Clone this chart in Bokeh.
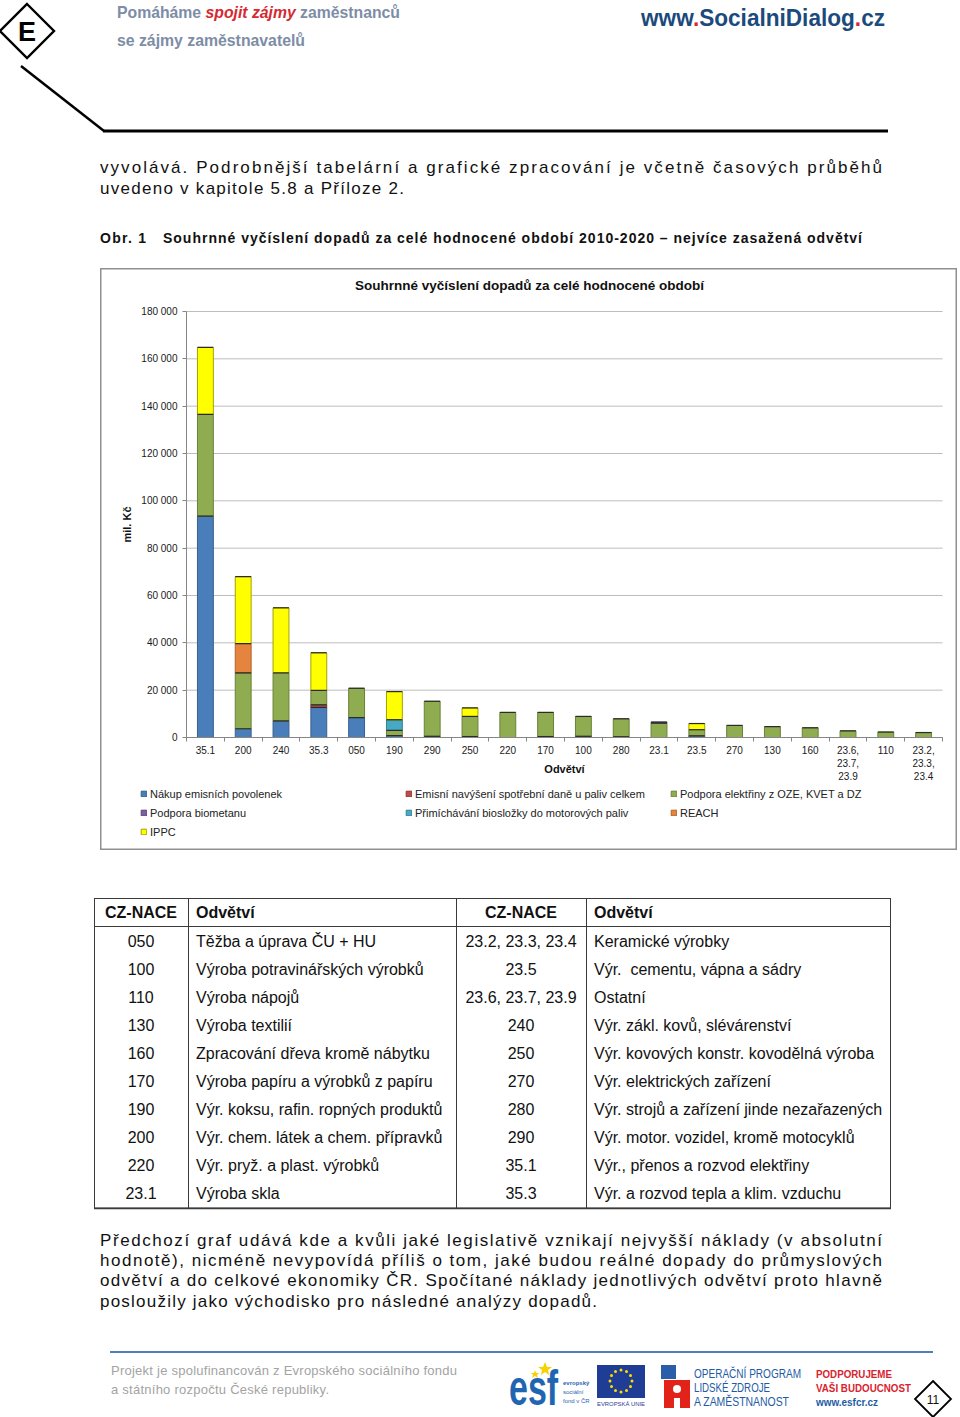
import math
import numpy as np
from bokeh.plotting import figure
from bokeh.models import (ColumnDataSource, Range1d, FixedTicker, Label, Legend, LegendItem,
                          LinearAxis, Div, Spacer)
from bokeh.layouts import column, row
from bokeh.embed import file_html
from bokeh.resources import INLINE

# ---------------- data ----------------
categories = ["35.1", "200", "240", "35.3", "050", "190", "290", "250", "220", "170",
              "100", "280", "23.1", "23.5", "270", "130", "160", "23.6, 23.7, 23.9", "110",
              "23.2, 23.3, 23.4"]
category_tick_labels = ["35.1", "200", "240", "35.3", "050", "190", "290", "250", "220", "170",
                        "100", "280", "23.1", "23.5", "270", "130", "160", "23.6,\n23.7,\n23.9",
                        "110", "23.2,\n23.3,\n23.4"]
series_names = ["Nákup emisních povolenek",
                "Emisní navýšení spotřební daně u paliv celkem",
                "Podpora elektřiny z OZE, KVET a DZ",
                "Podpora biometanu",
                "Přimíchávání biosložky do motorových paliv",
                "REACH",
                "IPPC"]
nakup_povolenek = [93500, 3700, 7000, 12700, 8400, 800, 500, 400, 0, 400,
                   0, 300, 0, 700, 0, 0, 0, 0, 0, 0]
spotrebni_dan = [0, 0, 0, 1100, 0, 0, 0, 0, 0, 0,
                 500, 0, 0, 0, 0, 0, 0, 0, 0, 0]
podpora_oze = [43000, 23600, 20300, 6100, 12400, 2200, 14800, 8500, 10600, 10200,
               8400, 7600, 6100, 2600, 5100, 4600, 4100, 2800, 2300, 2100]
podpora_biometanu = [0, 0, 0, 0, 0, 0, 0, 0, 0, 0,
                     0, 0, 400, 0, 0, 0, 0, 0, 0, 0]
primichavani = [0, 0, 0, 0, 0, 4500, 0, 0, 0, 0,
                0, 0, 0, 0, 0, 0, 0, 0, 0, 0]
reach = [0, 12400, 0, 0, 0, 0, 0, 0, 0, 0,
         0, 0, 0, 0, 0, 0, 0, 0, 0, 0]
ippc = [28300, 28300, 27500, 15900, 0, 11900, 0, 3600, 0, 0,
        0, 0, 0, 2600, 0, 0, 0, 0, 0, 0]
series_values = [nakup_povolenek, spotrebni_dan, podpora_oze, podpora_biometanu,
                 primichavani, reach, ippc]

y_tick_values = [0, 20000, 40000, 60000, 80000, 100000, 120000, 140000, 160000, 180000]
y_tick_labels = ["0", "20 000", "40 000", "60 000", "80 000", "100 000", "120 000",
                 "140 000", "160 000", "180 000"]

table_codes_left = ["050", "100", "110", "130", "160", "170", "190", "200", "220", "23.1"]
table_names_left = ["Těžba a úprava ČU + HU", "Výroba potravinářských výrobků", "Výroba nápojů",
                    "Výroba textilií", "Zpracování dřeva kromě nábytku",
                    "Výroba papíru a výrobků z papíru", "Výr. koksu, rafin. ropných produktů",
                    "Výr. chem. látek a chem. přípravků", "Výr. pryž. a plast. výrobků",
                    "Výroba skla"]
table_codes_right = ["23.2, 23.3, 23.4", "23.5", "23.6, 23.7, 23.9", "240", "250", "270",
                     "280", "290", "35.1", "35.3"]
table_names_right = ["Keramické výrobky", "Výr.  cementu, vápna a sádry", "Ostatní",
                     "Výr. zákl. kovů, slévárenství", "Výr. kovových konstr. kovodělná výroba",
                     "Výr. elektrických zařízení", "Výr. strojů a zařízení jinde nezařazených",
                     "Výr. motor. vozidel, kromě motocyklů", "Výr., přenos a rozvod elektřiny",
                     "Výr. a rozvod tepla a klim. vzduchu"]

# ---------------- styles / geometry ----------------
FONT = "Liberation Sans"
fills = ["#4A7EBB", "#BE4B48", "#8FAC50", "#7D5FA0", "#46AAC5", "#E5843E", "#FFFF00"]
edges = ["#37608F", "#8E3633", "#6A8138", "#5B4579", "#32839A", "#B0622B", "#A3A300"]
AXIS_GREY = "#868686"
BAR_W = 0.42

FIG_W, FIG_H = 857, 582            # chart box
PLOT_LEFT_PAD, PLOT_RIGHT_PAD = 86, 15     # from box edge to first/last category boundary
PLOT_TOP_PAD, PLOT_BOTTOM_PAD = 43, 113    # from box edge to top tick / zero line
n = len(categories)
px_per_cat = (FIG_W - PLOT_LEFT_PAD - PLOT_RIGHT_PAD) / n
y_max = y_tick_values[-1]
px_per_val = (FIG_H - PLOT_TOP_PAD - PLOT_BOTTOM_PAD) / y_max

x_pos = list(range(1, n + 1))           # category centres
bounds = [k + 0.5 for k in range(n + 1)]  # category boundaries

x_range = Range1d(0.5 - PLOT_LEFT_PAD / px_per_cat, n + 0.5 + PLOT_RIGHT_PAD / px_per_cat)
y_range = Range1d(-PLOT_BOTTOM_PAD / px_per_val, y_max + PLOT_TOP_PAD / px_per_val)

p = figure(x_range=x_range, y_range=y_range, width=FIG_W, height=FIG_H,
           output_backend="svg", toolbar_location=None, title=None,
           x_axis_location=None, y_axis_location=None, min_border=0,
           background_fill_color="white", border_fill_color="white")
p.outline_line_color = "#8f8f8f"
p.outline_line_width = 2
p.xgrid.visible = False
p.ygrid.visible = False

# horizontal grid lines between first and last category boundary
p.segment(x0=[bounds[0]] * len(y_tick_values), x1=[bounds[-1]] * len(y_tick_values),
          y0=y_tick_values, y1=y_tick_values, line_color="#bdbdbd", line_width=1)

# stacked bars
data = {"x": x_pos, "xl": [x - BAR_W / 2 for x in x_pos], "xr": [x + BAR_W / 2 for x in x_pos]}
cum = np.zeros(n)
for i, vals in enumerate(series_values):
    v = np.array(vals, dtype=float)
    data[f"b{i}"] = cum.copy()
    data[f"t{i}"] = cum + v
    data[f"a{i}"] = np.where(v > 0, 1.0, 0.0)
    cum = cum + v
source = ColumnDataSource(data)

renderers = []
first_nonzero = []
for i, vals in enumerate(series_values):
    r = p.vbar(x="x", width=BAR_W, bottom=f"b{i}", top=f"t{i}", source=source,
               fill_color=fills[i], line_color=edges[i], line_width=1,
               line_alpha=f"a{i}", fill_alpha=f"a{i}")
    renderers.append(r)
    first_nonzero.append(next(j for j, v in enumerate(vals) if v > 0))
# dark top edge of every segment (Excel style)
for i in range(len(series_values)):
    p.segment(x0="xl", x1="xr", y0=f"t{i}", y1=f"t{i}", source=source,
              line_color="#2b2b2b", line_width=1.2, line_alpha=f"a{i}")

# y axis (fixed at the first category boundary)
yaxis = LinearAxis(fixed_location=bounds[0], ticker=FixedTicker(ticks=y_tick_values),
                   bounds=(0, y_max),
                   major_label_overrides=dict(zip(y_tick_values, y_tick_labels)),
                   axis_line_color=AXIS_GREY, major_tick_line_color=AXIS_GREY,
                   major_tick_out=4, major_tick_in=0, minor_tick_line_color=None,
                   major_label_standoff=5, major_label_text_font=FONT,
                   major_label_text_font_size="10px", major_label_text_color="#1a1a1a",
                   axis_label="mil. Kč", axis_label_standoff=5, axis_label_text_font=FONT,
                   axis_label_text_font_style="bold", axis_label_text_font_size="11px",
                   axis_label_text_color="#111111")
p.add_layout(yaxis, "left")

# x axis: boundary ticks + baseline
xaxis_ticks = LinearAxis(fixed_location=0, ticker=FixedTicker(ticks=bounds),
                         bounds=(bounds[0], bounds[-1]),
                         axis_line_color=AXIS_GREY, major_tick_line_color=AXIS_GREY,
                         major_tick_out=4, major_tick_in=0, minor_tick_line_color=None,
                         major_label_text_alpha=0, major_label_text_font_size="1px")
p.add_layout(xaxis_ticks, "below")
# x axis: category labels
xaxis_labels = LinearAxis(fixed_location=0, ticker=FixedTicker(ticks=x_pos),
                          axis_line_color=None, major_tick_line_color=None,
                          major_tick_out=0, major_tick_in=0, minor_tick_line_color=None,
                          major_label_standoff=7,
                          major_label_overrides=dict(zip(x_pos, category_tick_labels)),
                          major_label_text_font=FONT, major_label_text_font_size="10px",
                          major_label_text_color="#1a1a1a")
p.add_layout(xaxis_labels, "below")

# title / axis title (screen units from frame bottom-left = box bottom-left)
p.add_layout(Label(x=429, y=565, x_units="screen", y_units="screen",
                   text="Souhrnné vyčíslení dopadů za celé hodnocené období",
                   text_align="center", text_baseline="middle", text_font=FONT,
                   text_font_style="bold", text_font_size="13.5px", text_color="#111111"))
p.add_layout(Label(x=464, y=82, x_units="screen", y_units="screen", text="Odvětví",
                   text_align="center", text_baseline="middle", text_font=FONT,
                   text_font_style="bold", text_font_size="11px", text_color="#111111"))

legend = Legend(items=[LegendItem(label=nm, renderers=[r], index=idx)
                       for nm, r, idx in zip(series_names, renderers, first_nonzero)],
                location=(40, 9), orientation="horizontal", ncols=3,
                glyph_width=7, glyph_height=7, label_standoff=3, label_width=255,
                label_height=19, spacing=0, padding=0, margin=0,
                label_text_font=FONT, label_text_font_size="11px", label_text_color="#222222",
                background_fill_alpha=0, border_line_alpha=0)
p.add_layout(legend)

# ---------------- page texts ----------------
TF = 'font-family="Liberation Sans, Arial, sans-serif"'


def line(x, y, txt, length, size=17, weight="normal", fill="#111"):
    return (f'<text x="{x}" y="{y}" font-size="{size}" font-weight="{weight}" fill="{fill}" '
            f'dominant-baseline="central" textLength="{length}" lengthAdjust="spacing">{txt}</text>')


top_svg = f'''
<svg xmlns="http://www.w3.org/2000/svg" width="960" height="268" {TF}
 style="position:absolute;left:0px;top:0px;overflow:visible">
 <polygon points="27,4 54,31 27,58 0,31" fill="#fff" stroke="#000" stroke-width="2.4"/>
 <text x="27" y="32" font-size="27" font-weight="bold" text-anchor="middle" dominant-baseline="central">E</text>
 <line x1="21" y1="66" x2="104" y2="131" stroke="#000" stroke-width="2.5"/>
 <line x1="103" y1="131" x2="888" y2="131" stroke="#000" stroke-width="3"/>
 <text x="117" y="12" font-size="17" font-weight="bold" fill="#7d8da6" dominant-baseline="central"
  textLength="283" lengthAdjust="spacingAndGlyphs">Pomáháme <tspan fill="#d42a30" font-style="italic">spojit zájmy</tspan> zaměstnanců</text>
 <text x="117" y="40" font-size="17" font-weight="bold" fill="#7d8da6" dominant-baseline="central"
  textLength="188" lengthAdjust="spacingAndGlyphs">se zájmy zaměstnavatelů</text>
 <text x="641" y="18" font-size="23" font-weight="bold" fill="#1b4a7c" dominant-baseline="central"
  textLength="244" lengthAdjust="spacingAndGlyphs">www<tspan fill="#d42a30">.</tspan>SocialniDialog<tspan fill="#d42a30">.</tspan>cz</text>
 {line(100, 167, "vyvolává. Podrobnější tabelární a grafické zpracování je včetně časových průběhů", 782)}
 {line(100, 188, "uvedeno v kapitole 5.8 a Příloze 2.", 304)}
 {line(100, 238, "Obr. 1", 46, size=14, weight="bold")}
 {line(163, 238, "Souhrnné vyčíslení dopadů za celé hodnocené období 2010-2020 – nejvíce zasažená odvětví", 699, size=14, weight="bold")}
</svg>'''

top_div = Div(text=f'<div style="position:relative;width:952px;height:268px">{top_svg}</div>',
              width=952, height=268, margin=(0, 0, 0, 0))

# table
tab = []
tab.append('<rect x="94.5" y="898.5" width="796" height="309.5" fill="none" stroke="#3a3a3a" stroke-width="1"/>')
tab.append('<line x1="94" y1="1208.5" x2="891" y2="1208.5" stroke="#3a3a3a" stroke-width="1.6"/>')
tab.append('<line x1="94" y1="926.5" x2="891" y2="926.5" stroke="#3a3a3a" stroke-width="1"/>')
for xv in (188.5, 456.5, 586.5):
    tab.append(f'<line x1="{xv}" y1="898" x2="{xv}" y2="1208" stroke="#3a3a3a" stroke-width="1"/>')
hdr = 'font-size="16" font-weight="bold" dominant-baseline="central" fill="#111"'
tab.append(f'<text x="141" y="912" text-anchor="middle" {hdr}>CZ-NACE</text>')
tab.append(f'<text x="196" y="912" {hdr}>Odvětví</text>')
tab.append(f'<text x="521" y="912" text-anchor="middle" {hdr}>CZ-NACE</text>')
tab.append(f'<text x="594" y="912" {hdr}>Odvětví</text>')
cell = 'font-size="16" dominant-baseline="central" fill="#111"'
for i in range(len(table_codes_left)):
    yv = 941 + 28 * i
    tab.append(f'<text x="141" y="{yv}" text-anchor="middle" {cell}>{table_codes_left[i]}</text>')
    tab.append(f'<text x="196" y="{yv}" {cell}>{table_names_left[i]}</text>')
    tab.append(f'<text x="521" y="{yv}" text-anchor="middle" {cell}>{table_codes_right[i]}</text>')
    tab.append(f'<text x="594" y="{yv}" {cell} style="white-space:pre">{table_names_right[i]}</text>')

stars = []
for k in range(12):
    a = 2 * math.pi * k / 12
    stars.append(f'<circle cx="{621 + 11 * math.cos(a):.1f}" cy="{1381 + 11 * math.sin(a):.1f}" r="1.5" fill="#ffdd00"/>')

bottom_svg = f'''
<svg xmlns="http://www.w3.org/2000/svg" width="960" height="567" {TF}
 style="position:absolute;left:0px;top:0px;overflow:visible">
<g transform="translate(0,-850)">
 {''.join(tab)}
 {line(100, 1240, "Předchozí graf udává kde a kvůli jaké legislativě vznikají nejvyšší náklady (v absolutní", 782)}
 {line(100, 1260, "hodnotě), nicméně nevypovídá příliš o tom, jaké budou reálné dopady do průmyslových", 782)}
 {line(100, 1280, "odvětví a do celkové ekonomiky ČR. Spočítané náklady jednotlivých odvětví proto hlavně", 782)}
 {line(100, 1301, "posloužily jako východisko pro následné analýzy dopadů.", 497)}
 <line x1="110" y1="1352" x2="933" y2="1352" stroke="#4f7fb5" stroke-width="2"/>
 {line(111, 1370, "Projekt je spolufinancován z Evropského sociálního fondu", 346, size=13, fill="#a3a3a3")}
 {line(111, 1389, "a státního rozpočtu České republiky.", 218, size=13, fill="#a3a3a3")}
 <text transform="translate(509,1405) scale(1,1.45)" font-size="34" font-weight="bold" fill="#1f65b2">esf</text>
 <polygon points="545,1362 547,1367 552,1367 548,1370 549,1375 545,1372 541,1375 542,1370 538,1367 543,1367" fill="#f5d300"/>
 <polygon points="535,1370 536,1373 539,1373 537,1375 538,1378 535,1376 532,1378 533,1375 531,1373 534,1373" fill="#f5d300"/>
 <text x="563" y="1385" font-size="6" font-weight="bold" fill="#1f65b2">evropský</text>
 <text x="563" y="1394" font-size="6" fill="#1f65b2">sociální</text>
 <text x="563" y="1403" font-size="6" fill="#1f65b2">fond v ČR</text>
 <rect x="597" y="1365" width="48" height="33" fill="#1f3d94"/>
 {''.join(stars)}
 <text x="597" y="1406" font-size="6" fill="#1f3d94" textLength="48" lengthAdjust="spacingAndGlyphs">EVROPSKÁ UNIE</text>
 <rect x="661" y="1365" width="15" height="14" fill="#2a5ea9"/>
 <path d="M664,1380 H690 V1408 H680 V1398 H674 V1408 H664 Z" fill="#e2231a"/>
 <circle cx="677" cy="1389" r="4" fill="#fff"/>
 <text x="694" y="1374" font-size="12" fill="#1e5ba5" dominant-baseline="central" textLength="107" lengthAdjust="spacingAndGlyphs">OPERAČNÍ PROGRAM</text>
 <text x="694" y="1388" font-size="12" fill="#1e5ba5" dominant-baseline="central" textLength="76" lengthAdjust="spacingAndGlyphs">LIDSKÉ ZDROJE</text>
 <text x="694" y="1402" font-size="12" fill="#1e5ba5" dominant-baseline="central" textLength="95" lengthAdjust="spacingAndGlyphs">A ZAMĚSTNANOST</text>
 <text x="816" y="1374" font-size="11" font-weight="bold" fill="#d8232e" dominant-baseline="central" textLength="76" lengthAdjust="spacingAndGlyphs">PODPORUJEME</text>
 <text x="816" y="1388" font-size="11" font-weight="bold" fill="#d8232e" dominant-baseline="central" textLength="95" lengthAdjust="spacingAndGlyphs">VAŠI BUDOUCNOST</text>
 <text x="816" y="1402" font-size="11" font-weight="bold" fill="#1e5ba5" dominant-baseline="central" textLength="62" lengthAdjust="spacingAndGlyphs">www.esfcr.cz</text>
 <polygon points="933,1381 951,1399 933,1417 915,1399" fill="#fff" stroke="#000" stroke-width="1.8"/>
 <text x="933" y="1400" font-size="12" text-anchor="middle" dominant-baseline="central" fill="#111">11</text>
</g>
</svg>'''

bottom_div = Div(text=f'<div style="position:relative;width:952px;height:567px">{bottom_svg}</div>',
                 width=952, height=567, margin=(0, 0, 0, 0))

layout = column(top_div, row(Spacer(width=100, height=FIG_H), p), bottom_div)

open("out.html", "w").write(file_html(layout, INLINE))
